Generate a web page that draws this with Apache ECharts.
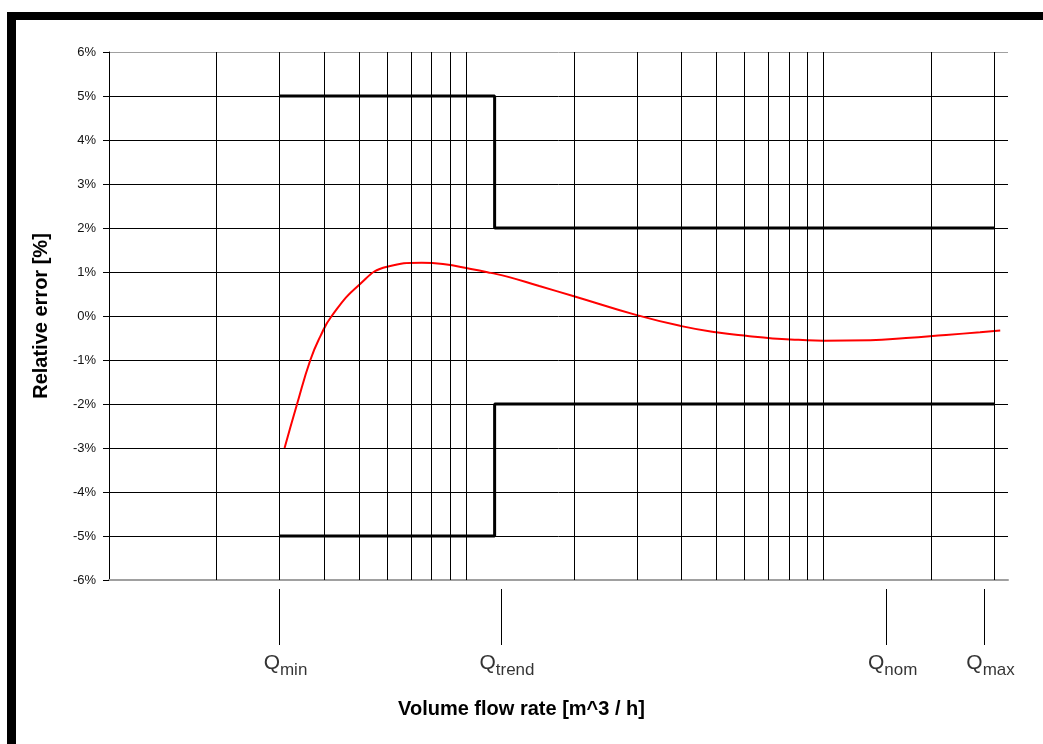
<!DOCTYPE html>
<html>
<head>
<meta charset="utf-8">
<title>Relative error</title>
<script src="https://cdn.jsdelivr.net/npm/echarts@6/dist/echarts.min.js"></script>
<style>
html, body { margin: 0; padding: 0; background: #fff; }
#error_chart { width: 1043px; height: 744px; }
</style>
</head>
<body>
<div id="error_chart"></div>
<script>
// vertical grid lines (flow rate, log axis)
var gridQ = [0.2, 0.3, 0.4, 0.5, 0.6, 0.7, 0.8, 0.9, 1, 2, 3, 4, 5, 6, 7, 8, 9, 10, 20, 30];
var qMin = 0.1;
var qMax = 32.8;

// y axis: relative error in %
var yMin = -6;
var yMax = 6;
var yStep = 1;

// error limits, step at Q_trend
var limitQ = [0.3, 1.2, 1.2, 30];
var upperLimit = [5, 5, 2, 2];
var lowerLimit = [-5, -5, -2, -2];

// measured error curve
var errQ = [0.31, 0.336, 0.366, 0.39, 0.42, 0.5, 0.6, 0.75, 0.86, 1.03, 1.17, 1.31, 1.6, 2.0, 3.0, 4.0, 5.0, 6.2, 7.2, 8.5, 10, 13.5, 17, 22, 27.4, 31.2];
var errVal = [-3.0, -2.0, -1.0, -0.47, 0.0, 0.7, 1.12, 1.21, 1.18, 1.07, 0.98, 0.89, 0.68, 0.45, 0.02, -0.23, -0.37, -0.46, -0.51, -0.54, -0.56, -0.55, -0.5, -0.43, -0.37, -0.33];

// Q markers below the axis
var markQ = [0.3, 1.25, 15, 28.2];
var markName = ['min', 'trend', 'nom', 'max'];

var FONT = '"Liberation Sans", Arial, sans-serif';

function pairs(xs, ys) {
    var out = [];
    for (var i = 0; i < xs.length; i++) out.push([xs[i], ys[i]]);
    return out;
}

function error_chart() {
    var chart = echarts.init(document.getElementById('error_chart'));

    var hLineColors = [];
    for (var v = yMin; v <= yMax; v += yStep) {
        hLineColors.push(v === yMin || v === yMax ? '#a0a0a0' : '#000');
    }

    var option = {
        animation: false,
        backgroundColor: '#fff',
        textStyle: { fontFamily: FONT },
        title: {
            text: 'Volume flow rate [m^3 / h]',
            left: 'center',
            top: 699,
            padding: 0,
            textStyle: { fontSize: 20, fontWeight: 'bold', color: '#000', fontFamily: FONT }
        },
        grid: [
            { left: 109, right: 35, top: 52, bottom: 164 },
            { left: 109, right: 35, top: 589, height: 56 }
        ],
        xAxis: [{
            type: 'log',
            logBase: 10,
            min: qMin,
            max: qMax,
            gridIndex: 0,
            axisLine: { onZero: false, lineStyle: { color: '#a0a0a0', width: 2 } },
            axisTick: { show: false },
            axisLabel: { show: false },
            splitLine: { show: false }
        }, {
            type: 'log',
            logBase: 10,
            min: qMin,
            max: qMax,
            gridIndex: 1,
            show: false
        }],
        yAxis: [{
            type: 'value',
            min: yMin,
            max: yMax,
            interval: yStep,
            gridIndex: 0,
            name: 'Relative error [%]',
            nameLocation: 'middle',
            nameGap: 58,
            nameTextStyle: { fontSize: 20, fontWeight: 'bold', color: '#000', fontFamily: FONT },
            axisLine: { show: true, lineStyle: { color: '#000', width: 1 } },
            axisTick: { show: true, length: 6, lineStyle: { color: '#000' } },
            axisLabel: { formatter: '{value}%', fontSize: 13, color: '#111', margin: 13, fontFamily: FONT },
            splitLine: { show: true, lineStyle: { color: hLineColors, width: 1 } }
        }, {
            type: 'value',
            min: 0,
            max: 1,
            gridIndex: 1,
            show: false
        }],
        series: [{
            name: 'grid',
            type: 'line',
            data: [],
            z: 1,
            silent: true,
            markLine: {
                silent: true,
                symbol: ['none', 'none'],
                label: { show: false },
                lineStyle: { color: '#000', width: 1, type: 'solid' },
                emphasis: { disabled: true },
                data: gridQ.map(function (q) { return { xAxis: q }; })
            }
        }, {
            name: 'upper',
            type: 'line',
            data: pairs(limitQ, upperLimit),
            symbol: 'none',
            z: 3,
            lineStyle: { color: '#000', width: 3 }
        }, {
            name: 'lower',
            type: 'line',
            data: pairs(limitQ, lowerLimit),
            symbol: 'none',
            z: 3,
            lineStyle: { color: '#000', width: 3 }
        }, {
            name: 'error',
            type: 'line',
            data: pairs(errQ, errVal),
            smooth: 0.5,
            symbol: 'none',
            z: 4,
            lineStyle: { color: '#ff0000', width: 2 }
        }, {
            name: 'marks',
            type: 'scatter',
            xAxisIndex: 1,
            yAxisIndex: 1,
            data: markQ.map(function (q) { return [q, 0]; }),
            symbolSize: 1,
            itemStyle: { color: 'rgba(0,0,0,0)' },
            silent: true,
            label: {
                show: true,
                position: 'bottom',
                distance: 7,
                offset: [6, 0],
                formatter: function (p) { return '{q|Q}{s|' + markName[p.dataIndex] + '}'; },
                rich: {
                    q: { fontSize: 21, lineHeight: 21, color: '#000', fontFamily: FONT },
                    s: { fontSize: 17, lineHeight: 17, color: '#000', fontFamily: FONT, padding: [15, 0, 0, 0] }
                }
            },
            markLine: {
                silent: true,
                symbol: ['none', 'none'],
                label: { show: false },
                lineStyle: { color: '#000', width: 1, type: 'solid' },
                emphasis: { disabled: true },
                data: markQ.map(function (q) { return { xAxis: q }; })
            }
        }],
        graphic: [
            { type: 'rect', left: 7, top: 12, shape: { width: 1036, height: 8 }, style: { fill: '#000' }, z: 100 },
            { type: 'rect', left: 7, top: 12, shape: { width: 9, height: 732 }, style: { fill: '#000' }, z: 100 }
        ]
    };
    chart.setOption(option);
}

error_chart();
</script>
</body>
</html>
